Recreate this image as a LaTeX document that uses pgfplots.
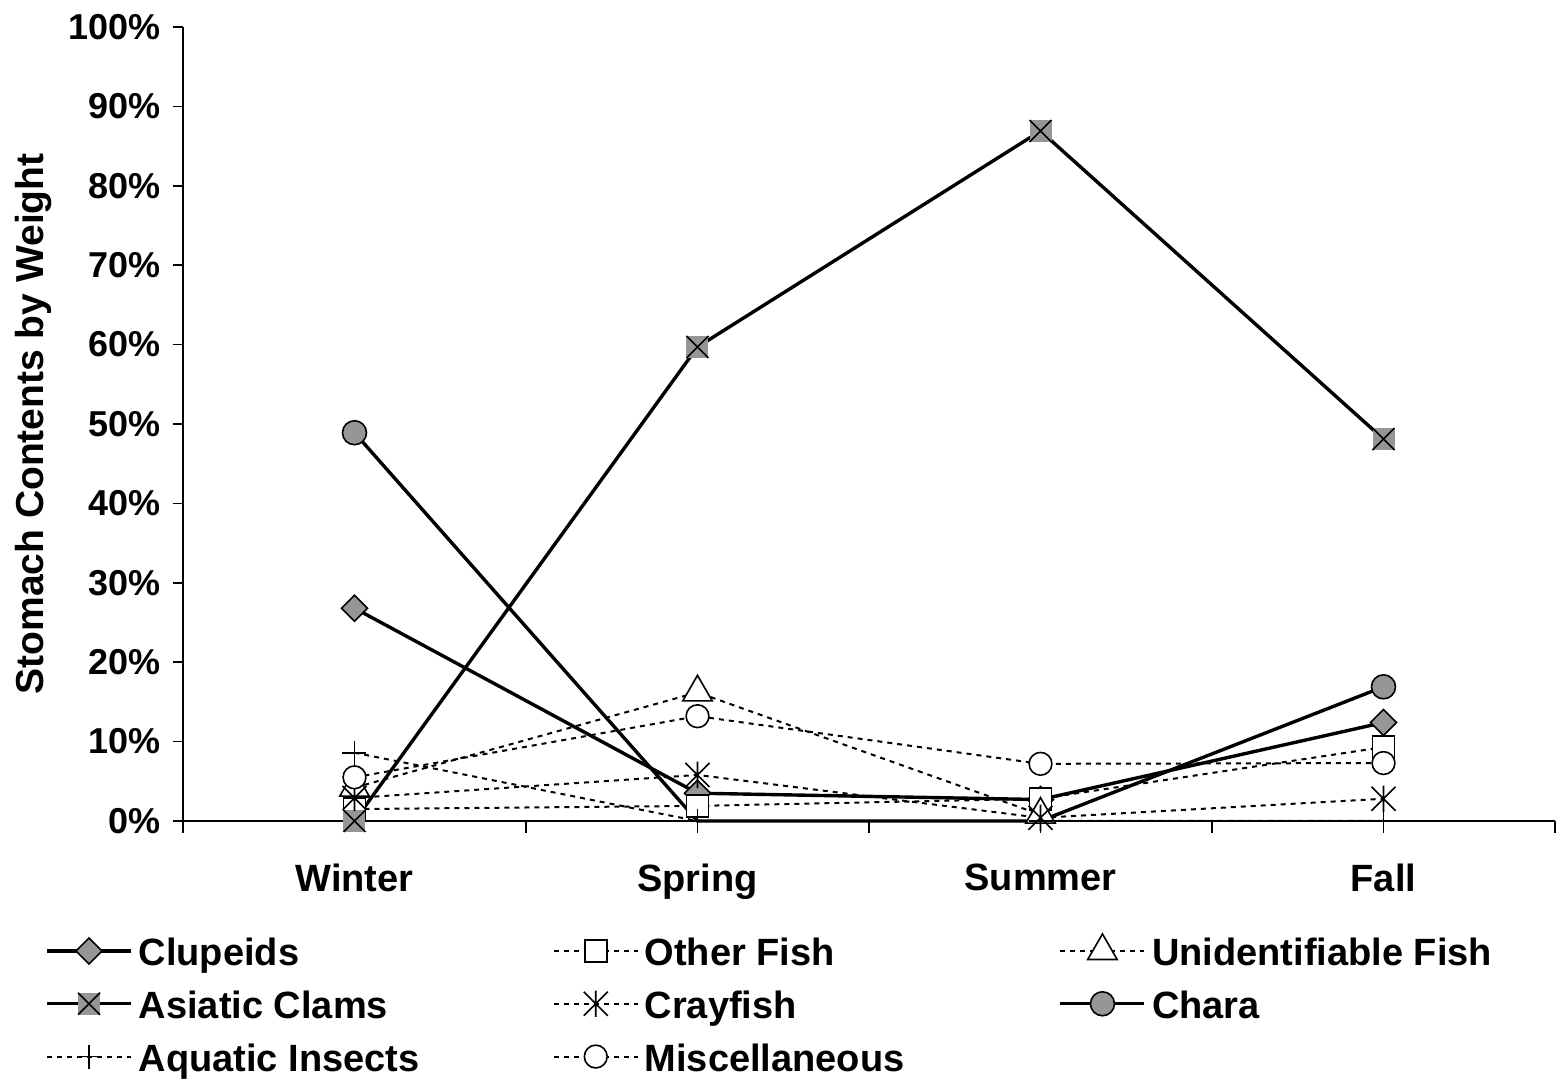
\documentclass[border=0pt]{standalone}
\usepackage{fontspec}
\setmainfont{Liberation Sans}
\usepackage{pgfplots}
\pgfplotsset{compat=1.18}
\definecolor{mgray}{HTML}{969696}

% gray square with a cross (Asiatic Clams)
\pgfdeclareplotmark{sqx}{%
  \pgfpathrectangle{\pgfqpoint{-\pgfplotmarksize}{-\pgfplotmarksize}}{\pgfqpoint{2\pgfplotmarksize}{2\pgfplotmarksize}}%
  \pgfusepathqfill
  \pgfpathmoveto{\pgfqpoint{-\pgfplotmarksize}{-\pgfplotmarksize}}%
  \pgfpathlineto{\pgfqpoint{\pgfplotmarksize}{\pgfplotmarksize}}%
  \pgfpathmoveto{\pgfqpoint{-\pgfplotmarksize}{\pgfplotmarksize}}%
  \pgfpathlineto{\pgfqpoint{\pgfplotmarksize}{-\pgfplotmarksize}}%
  \pgfusepathqstroke}
% x with a vertical bar (Crayfish)
\pgfdeclareplotmark{xbar}{%
  \pgfpathmoveto{\pgfqpoint{-\pgfplotmarksize}{-\pgfplotmarksize}}%
  \pgfpathlineto{\pgfqpoint{\pgfplotmarksize}{\pgfplotmarksize}}%
  \pgfpathmoveto{\pgfqpoint{-\pgfplotmarksize}{\pgfplotmarksize}}%
  \pgfpathlineto{\pgfqpoint{\pgfplotmarksize}{-\pgfplotmarksize}}%
  \pgfpathmoveto{\pgfqpoint{0pt}{-1.1\pgfplotmarksize}}%
  \pgfpathlineto{\pgfqpoint{0pt}{1.1\pgfplotmarksize}}%
  \pgfusepathqstroke}
% square diamond
\pgfdeclareplotmark{dia}{%
  \pgfpathmoveto{\pgfqpoint{0pt}{\pgfplotmarksize}}%
  \pgfpathlineto{\pgfqpoint{\pgfplotmarksize}{0pt}}%
  \pgfpathlineto{\pgfqpoint{0pt}{-\pgfplotmarksize}}%
  \pgfpathlineto{\pgfqpoint{-\pgfplotmarksize}{0pt}}%
  \pgfpathclose
  \pgfusepathqfillstroke}

\pgfplotsset{
  solidser/.style={black, solid, line width=1.7pt, mark options={solid, line width=0.8pt, fill=mgray}},
  dashser/.style={black, line width=1pt, dash pattern=on 2.5pt off 2.5pt, mark options={solid, line width=0.8pt, fill=white}},
}
\newcommand{\legtext}[1]{\makebox[207pt][l]{\strut #1}}

\begin{document}
\begin{tikzpicture}
\useasboundingbox (-91.5pt,-130pt) rectangle (688.5pt,410.5pt);
\begin{axis}[
  at={(0pt,0pt)}, anchor=south west,
  scale only axis, width=686pt, height=397pt,
  xmin=-0.5, xmax=3.5, ymin=0, ymax=100,
  clip=false,
  axis lines*=left,
  axis line style={line width=0.8pt},
  xtick={0,1,2,3},
  xticklabels={Winter,Spring,Summer,Fall},
  minor xtick={-0.5,0.5,1.5,2.5,3.5},
  major x tick style={draw=none},
  ytick={0,10,...,100},
  yticklabels={0\%,10\%,20\%,30\%,40\%,50\%,60\%,70\%,80\%,90\%,100\%},
  tick align=outside,
  major tick length=5pt, minor tick length=6pt,
  tick style={black, line width=0.8pt},
  x tick label style={font=\bfseries\fontsize{19}{23}\selectfont, yshift=-13pt},
  y tick label style={font=\bfseries\fontsize{18}{22}\selectfont, xshift=-2.5pt},
  ylabel={Stomach Contents by Weight},
  ylabel style={font=\bfseries\fontsize{19.5}{23}\selectfont, at={(axis description cs:-0.109,0.5)}, anchor=center},
  legend columns=3,
  legend cell align=left,
  legend style={at={(axis description cs:-0.1006,-0.141)}, anchor=north west,
    draw=none, fill=none, inner sep=0pt, row sep=8.8pt, column sep=0pt,
    font=\bfseries\fontsize{19}{23}\selectfont, nodes={inner sep=0pt},
    /tikz/every odd column/.append style={column sep=3pt}},
  legend image code/.code={\draw[#1, mark indices={2}] plot coordinates {(0pt,0pt) (21pt,0pt) (42pt,0pt)};},
]
\addplot[solidser, mark=dia, mark size=6.5pt] coordinates {(0,26.8) (1,3.5) (2,2.7) (3,12.4)};
\addlegendentry{\legtext{Clupeids}}
\addplot[dashser, mark=square*, mark size=5.5pt] coordinates {(0,1.5) (1,1.9) (2,2.8) (3,9.3)};
\addlegendentry{\legtext{Other Fish}}
\addplot[dashser, mark=triangle*, mark size=8.5pt] coordinates {(0,4.2) (1,16.2) (2,0.8)};
\addlegendentry{\legtext{Unidentifiable Fish}}
\addplot[solidser, mark=sqx, mark size=5.5pt] coordinates {(0,0) (1,59.7) (2,86.9) (3,48.1)};
\addlegendentry{\legtext{Asiatic Clams}}
\addplot[dashser, mark=xbar, mark size=6pt] coordinates {(0,2.9) (1,5.8) (2,0.4) (3,2.8)};
\addlegendentry{\legtext{Crayfish}}
\addplot[solidser, mark=*, mark size=6pt, mark indices={1,4}] coordinates {(0,48.9) (1,0) (2,0) (3,16.9)};
\addlegendentry{\legtext{Chara}}
\addplot[dashser, mark=+, mark size=6pt] coordinates {(0,8.6) (1,0) (2,0) (3,0)};
\addlegendentry{\legtext{Aquatic Insects}}
\addplot[dashser, mark=*, mark size=5.7pt] coordinates {(0,5.5) (1,13.2) (2,7.2) (3,7.3)};
\addlegendentry{\legtext{Miscellaneous}}
\end{axis}
\end{tikzpicture}
\end{document}
